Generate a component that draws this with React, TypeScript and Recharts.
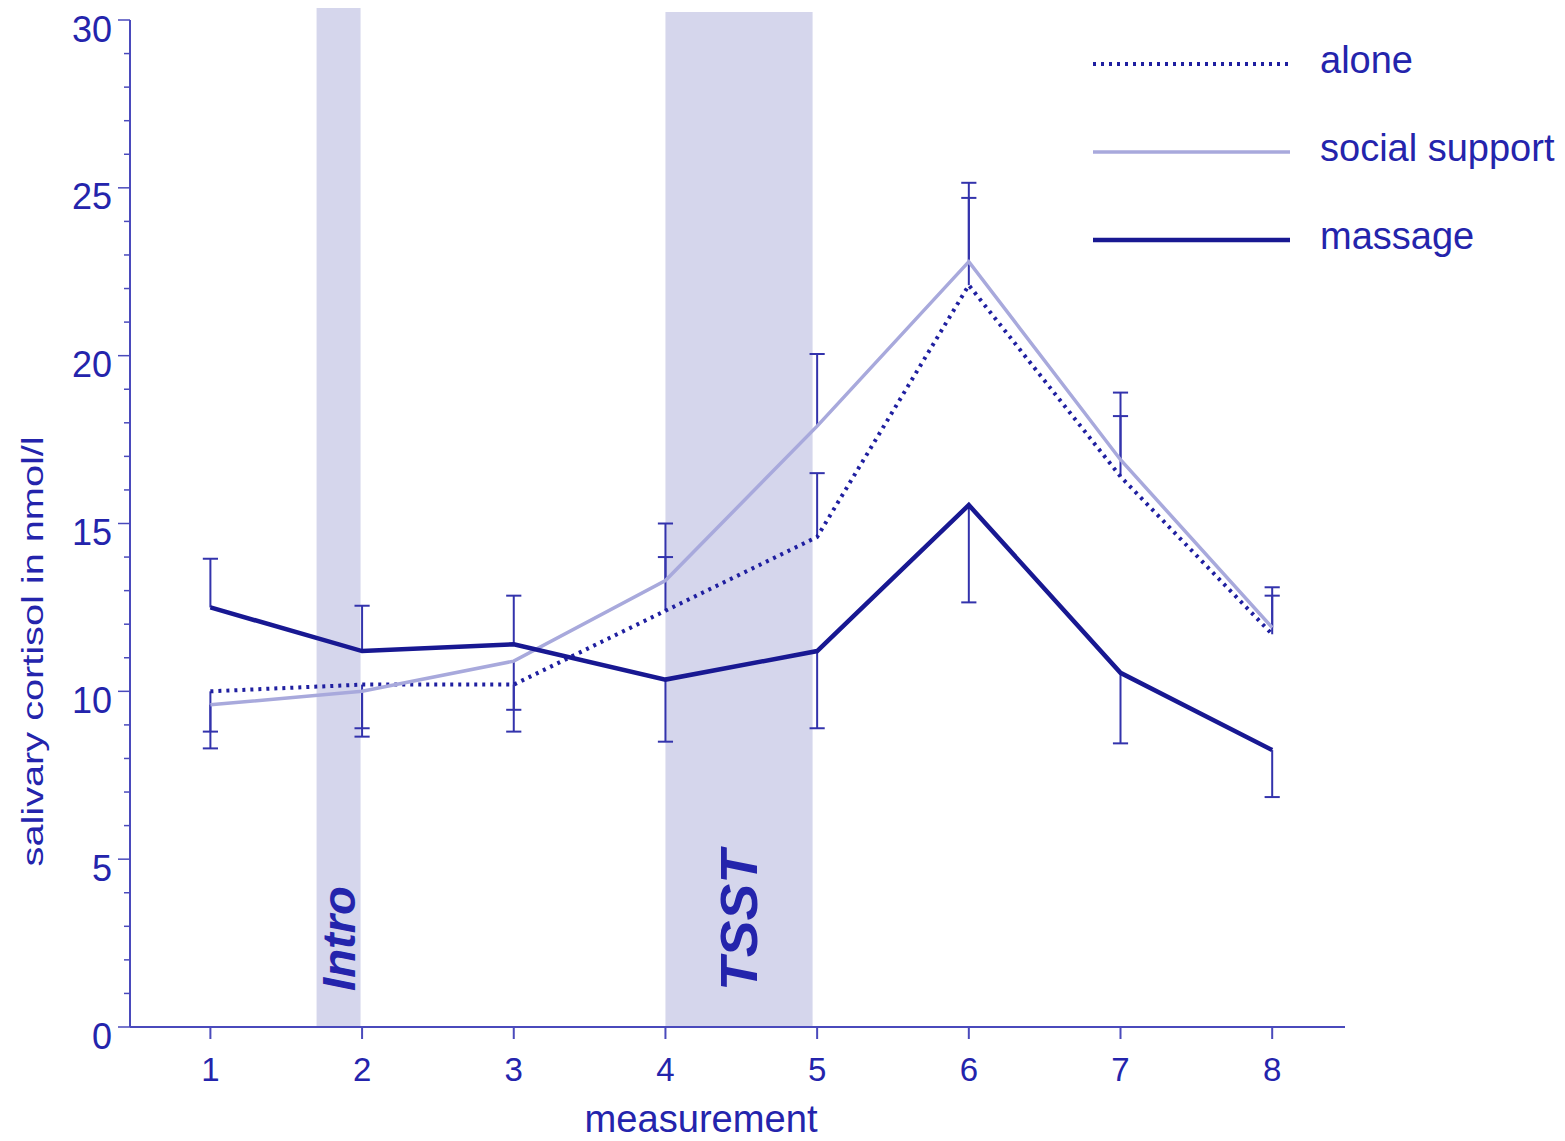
import {
  LineChart,
  Line,
  XAxis,
  YAxis,
  ReferenceArea,
  ReferenceLine,
  Legend,
} from 'recharts';

// measurement points
const measurements = [1, 2, 3, 4, 5, 6, 7, 8];

// mean salivary cortisol (nmol/l) per group
const alone = [10.0, 10.2, 10.2, 12.4, 14.6, 22.1, 16.4, 11.7];
const social = [9.6, 10.0, 10.9, 13.3, 17.9, 22.8, 16.9, 11.9];
const massage = [12.5, 11.2, 11.4, 10.35, 11.2, 15.55, 10.55, 8.25];

// one-sided error bars: negative = drawn downward, positive = upward
const aloneErr = [-1.2, -1.3, -1.4, 1.6, 1.9, 2.6, 1.8, 1.15];
const socialErr = [-1.3, -1.35, -1.45, 1.7, 2.15, 2.35, 2.0, 1.2];
const massageErr = [1.45, 1.35, 1.45, -1.85, -2.3, -2.9, -2.1, -1.4];

const xTicks = [1, 2, 3, 4, 5, 6, 7, 8];
const yTicks = [
  0, 1, 2, 3, 4, 5, 6, 7, 8, 9, 10, 11, 12, 13, 14, 15, 16, 17, 18, 19, 20,
  21, 22, 23, 24, 25, 26, 27, 28, 29, 30,
];

const legendOrder = ['alone', 'social support', 'massage'];

// shaded phases (in measurement units)
const phases = [
  { label: 'Intro', from: 1.7, to: 1.99, top: 30.36 },
  { label: 'TSST', from: 4.0, to: 4.97, top: 30.24 },
];

const TEXT = '#2424ac';
const AXIS = '#4a4abc';
const BAND = '#d5d6ec';
const ERR = '#3333ac';
const FONT = '"Liberation Sans", Arial, sans-serif';
const CAP = 0.05;

const data = measurements.map((m, i) => ({
  m,
  alone: alone[i],
  social: social[i],
  massage: massage[i],
}));

const errorBars = [
  { values: alone, errs: aloneErr },
  { values: social, errs: socialErr },
  { values: massage, errs: massageErr },
].flatMap((s) =>
  measurements.map((m, i) => ({ x: m, y: s.values[i], end: s.values[i] + s.errs[i] }))
);

// eslint-disable-next-line @typescript-eslint/no-explicit-any
function YTick({ x, y, payload }: any) {
  const v: number = payload.value;
  const major = v % 5 === 0;
  return (
    <g>
      <line x1={x - (major ? 12 : 6)} x2={x} y1={y} y2={y} stroke={AXIS} strokeWidth={1.5} />
      {major && (
        <text
          x={x - 18}
          y={y + 9}
          textAnchor="end"
          dominantBaseline="central"
          fill={TEXT}
          fontSize={36}
          fontFamily={FONT}
        >
          {v}
        </text>
      )}
    </g>
  );
}

// eslint-disable-next-line @typescript-eslint/no-explicit-any
function SeriesLegend({ payload }: any) {
  // eslint-disable-next-line @typescript-eslint/no-explicit-any
  const items = legendOrder.map((n) => payload.find((p: any) => p.value === n)).filter(Boolean);
  return (
    <div style={{ display: 'flex', flexDirection: 'column' }}>
      {/* eslint-disable-next-line @typescript-eslint/no-explicit-any */}
      {items.map((p: any) => (
        <div key={p.value} style={{ display: 'flex', alignItems: 'center', height: 88 }}>
          <svg width={202} height={12}>
            <line
              x1={3}
              x2={200}
              y1={6}
              y2={6}
              stroke={p.color}
              strokeWidth={p.payload.strokeWidth}
              strokeDasharray={p.payload.strokeDasharray}
            />
          </svg>
          <span
            style={{
              marginLeft: 28,
              fontSize: 38,
              color: TEXT,
              fontFamily: FONT,
              lineHeight: 1,
              paddingBottom: 8,
            }}
          >
            {p.value}
          </span>
        </div>
      ))}
    </div>
  );
}

export default function App() {
  return (
    <div style={{ position: 'absolute', left: 0, top: 0, background: '#fff' }}>
      <LineChart
        width={1565}
        height={1141}
        data={data}
        margin={{ top: 20, right: 220, bottom: 0, left: 30 }}
        style={{ fontFamily: FONT }}
      >
        {phases.map((p) => (
          <ReferenceArea
            key={p.label}
            x1={p.from}
            x2={p.to}
            y1={0}
            y2={p.top}
            fill={BAND}
            fillOpacity={1}
            stroke="none"
            ifOverflow="visible"
            label={{
              // eslint-disable-next-line @typescript-eslint/no-explicit-any
              content: (lp: any) => {
                const vb = lp.viewBox;
                const cx = vb.x + vb.width / 2;
                const by = vb.y + vb.height - 36;
                return (
                  <text
                    x={cx}
                    y={by}
                    transform={`rotate(-90 ${cx} ${by})`}
                    textAnchor="start"
                    dominantBaseline="central"
                    fill={TEXT}
                    fontSize={p.label === 'TSST' ? 52 : 46}
                    fontWeight="bold"
                    fontStyle="italic"
                    fontFamily={FONT}
                    textLength={p.label === 'TSST' ? 141 : 105}
                    lengthAdjust="spacingAndGlyphs"
                  >
                    {p.label}
                  </text>
                );
              },
            }}
          />
        ))}

        <XAxis
          dataKey="m"
          type="number"
          domain={[0.47, 8.48]}
          ticks={xTicks}
          height={114}
          stroke={AXIS}
          strokeWidth={2}
          tickSize={12}
          tickMargin={19}
          tick={{ fill: TEXT, fontSize: 33, fontFamily: FONT }}
          label={{
            // eslint-disable-next-line @typescript-eslint/no-explicit-any
            content: (lp: any) => {
              const vb = lp.viewBox;
              return (
                <text
                  x={vb.x + vb.width * 0.47}
                  y={vb.y + vb.height - 9}
                  textAnchor="middle"
                  fill={TEXT}
                  fontSize={38}
                  fontFamily={FONT}
                  textLength={233}
                  lengthAdjust="spacingAndGlyphs"
                >
                  measurement
                </text>
              );
            },
          }}
        />
        <YAxis
          type="number"
          domain={[0, 30]}
          ticks={yTicks}
          interval={0}
          width={100}
          stroke={AXIS}
          strokeWidth={2}
          tickLine={false}
          tickSize={0}
          tickMargin={0}
          tick={<YTick />}
          label={{
            // eslint-disable-next-line @typescript-eslint/no-explicit-any
            content: (lp: any) => {
              const vb = lp.viewBox;
              const tx = vb.x + 3;
              const ty = vb.y + vb.height * 0.627;
              return (
                <text
                  x={tx}
                  y={ty}
                  transform={`rotate(-90 ${tx} ${ty})`}
                  textAnchor="middle"
                  dominantBaseline="central"
                  fill={TEXT}
                  fontSize={30}
                  fontFamily={FONT}
                  textLength={430}
                  lengthAdjust="spacingAndGlyphs"
                >
                  salivary cortisol in nmol/l
                </text>
              );
            },
          }}
        />

        {errorBars.map((e, k) => (
          <ReferenceLine
            key={`v${k}`}
            segment={[
              { x: e.x, y: e.y },
              { x: e.x, y: e.end },
            ]}
            stroke={ERR}
            strokeWidth={2}
          />
        ))}
        {errorBars.map((e, k) => (
          <ReferenceLine
            key={`c${k}`}
            segment={[
              { x: e.x - CAP, y: e.end },
              { x: e.x + CAP, y: e.end },
            ]}
            stroke={ERR}
            strokeWidth={2}
          />
        ))}

        <Line
          dataKey="alone"
          name="alone"
          stroke="#1f1fa0"
          strokeWidth={4}
          strokeDasharray="3 5"
          dot={false}
          isAnimationActive={false}
        />
        <Line
          dataKey="social"
          name="social support"
          stroke="#a8a9dc"
          strokeWidth={3.5}
          dot={false}
          isAnimationActive={false}
        />
        <Line
          dataKey="massage"
          name="massage"
          stroke="#181892"
          strokeWidth={4.5}
          dot={false}
          isAnimationActive={false}
        />

        <Legend
          layout="vertical"
          align="center"
          verticalAlign="middle"
          wrapperStyle={{ top: 20, left: 1090, width: 475 }}
          content={<SeriesLegend />}
        />
      </LineChart>
    </div>
  );
}
